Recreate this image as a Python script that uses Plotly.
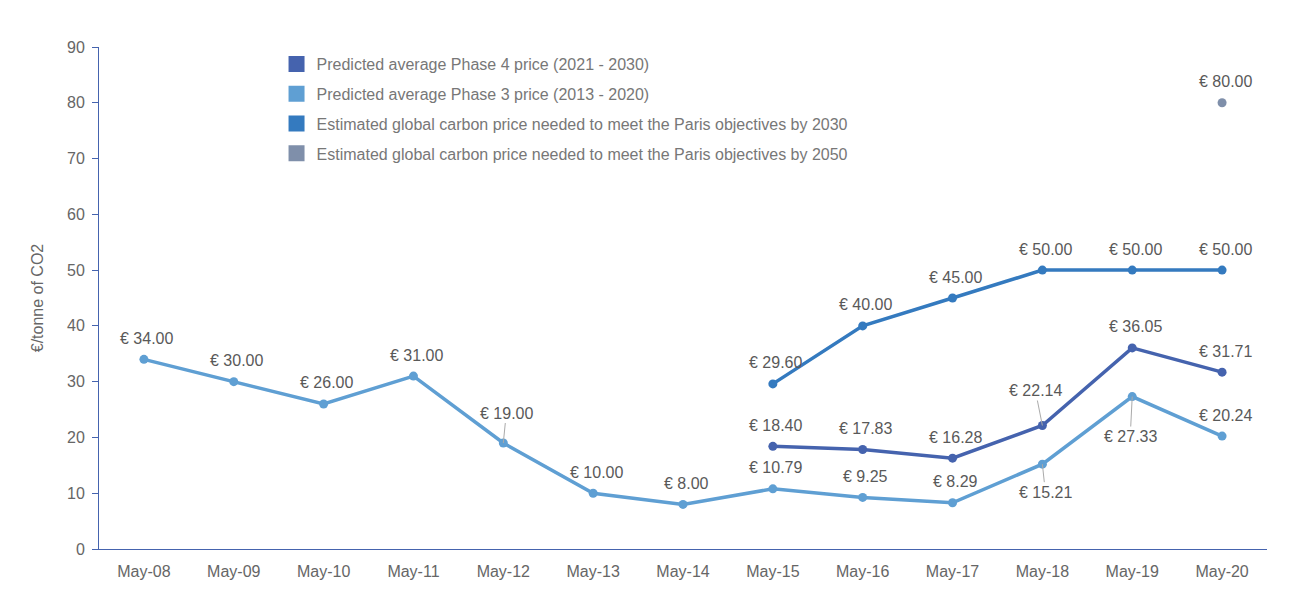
import plotly.graph_objects as go

categories = ["May-08", "May-09", "May-10", "May-11", "May-12", "May-13", "May-14",
              "May-15", "May-16", "May-17", "May-18", "May-19", "May-20"]

phase3 = [34.00, 30.00, 26.00, 31.00, 19.00, 10.00, 8.00, 10.79, 9.25, 8.29, 15.21, 27.33, 20.24]
phase4 = [None, None, None, None, None, None, None, 18.40, 17.83, 16.28, 22.14, 36.05, 31.71]
paris2030 = [None, None, None, None, None, None, None, 29.60, 40.00, 45.00, 50.00, 50.00, 50.00]
paris2050 = [None, None, None, None, None, None, None, None, None, None, None, None, 80.00]

names = [
    "Predicted average Phase 4 price (2021 - 2030)",
    "Predicted average Phase 3 price (2013 - 2020)",
    "Estimated global carbon price needed to meet the Paris objectives by 2030",
    "Estimated global carbon price needed to meet the Paris objectives by 2050",
]
colors = ["#4563AE", "#5F9FD3", "#347ABF", "#7F8FAA"]

# label placement (pixel offsets of label centre relative to point; leader line if True)
default_off = (3, -21, False)
special = {
    ("p3", 4): (3, -30, True),
    ("p3", 10): (3, 28, True),
    ("p3", 11): (-2, 40, True),
    ("p4", 10): (-7, -35, True),
}

FONT = "Liberation Sans, Arial, sans-serif"
FS = 16
fig = go.Figure()

order = [("p3", phase3, 1), ("p4", phase4, 0), ("p30", paris2030, 2), ("p50", paris2050, 3)]
for key, vals, ci in order:
    fig.add_trace(go.Scatter(
        x=categories, y=vals, mode="lines+markers",
        line=dict(color=colors[ci], width=3.5),
        marker=dict(color=colors[ci], size=9),
        showlegend=False, hoverinfo="skip", connectgaps=False,
    ))

annotations = []
for key, vals, ci in order:
    for i, v in enumerate(vals):
        if v is None:
            continue
        dx, dy, leader = special.get((key, i), default_off)
        txt = "€ %.2f" % v
        if leader:
            annotations.append(dict(
                x=categories[i], y=v, xref="x", yref="y", text=txt,
                showarrow=True, arrowhead=0, arrowwidth=1, arrowcolor="#AAAAAA",
                ax=dx, ay=dy, standoff=0,
                font=dict(family=FONT, size=FS, color="#595959"),
            ))
        else:
            annotations.append(dict(
                x=categories[i], y=v, xref="x", yref="y", text=txt,
                showarrow=False, xshift=dx, yshift=-dy,
                font=dict(family=FONT, size=FS, color="#595959"),
            ))

# legend entries
for i, n in enumerate(names):
    fig.add_trace(go.Scatter(
        x=[None], y=[None], mode="markers", name=n,
        marker=dict(color=colors[i], size=16, symbol="square"),
        legendgroup="g%d" % i, showlegend=True,
    ))

fig.update_layout(
    width=1297, height=600,
    margin=dict(l=91, r=38, t=39, b=59),
    paper_bgcolor="white", plot_bgcolor="white",
    font=dict(family=FONT, size=FS, color="#666666"),
    annotations=annotations,
    legend=dict(
        x=0.152, y=1.0, xanchor="left", yanchor="top",
        font=dict(family=FONT, size=FS, color="#777777"),
        itemsizing="trace", tracegroupgap=6, bgcolor="rgba(0,0,0,0)",
        traceorder="grouped",
    ),
    xaxis=dict(
        type="category", categoryorder="array", categoryarray=categories,
        range=[-0.5, 12.5], showgrid=False, zeroline=False,
        showline=True, linecolor="#4563AE", linewidth=1,
        ticks="", ticklabelstandoff=8,
        tickfont=dict(family=FONT, size=FS, color="#666666"),
    ),
    yaxis=dict(
        range=[0, 90], dtick=10, showgrid=False, zeroline=False,
        showline=True, linecolor="#4563AE", linewidth=1,
        ticks="outside", ticklen=6, tickcolor="#4563AE", ticklabelstandoff=4,
        tickfont=dict(family=FONT, size=FS, color="#666666"),
        title=dict(text="€/tonne of CO2", font=dict(family=FONT, size=FS, color="#666666"), standoff=19),
    ),
)

fig.write_html("out.html")
